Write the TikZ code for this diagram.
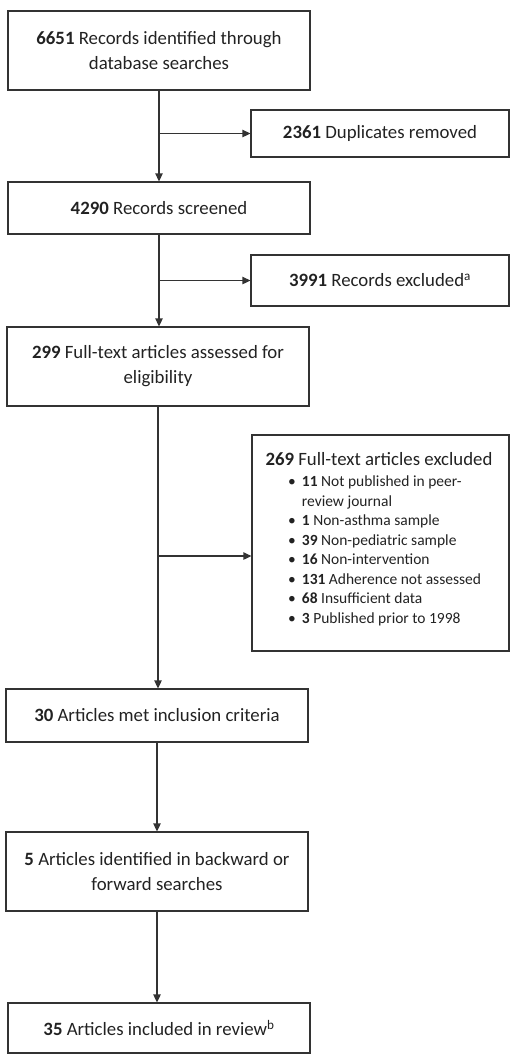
\documentclass[tikz,border=0pt]{standalone}
\usepackage{fontspec}
\setmainfont{Carlito}
\usetikzlibrary{arrows.meta,positioning}
\definecolor{ln}{HTML}{333333}
\definecolor{tx}{HTML}{222222}
\tikzset{
  box/.style={draw=ln, line width=1.3pt, rectangle, inner sep=0pt, align=center, text=tx,
    font=\fontsize{18.8}{25}\selectfont},
  flow/.style={draw=ln, line width=1.3pt, -{Triangle[length=8pt,width=7.5pt]}},
}
\begin{document}
\begin{tikzpicture}[x=1pt,y=-1pt]
\useasboundingbox (0,0) rectangle (520,1063);
\node[box, minimum width=302, minimum height=79] (b1) at (159,50.5)
  {\textbf{6651} Records identified through\\database searches};
\node[box, minimum width=258, minimum height=47] (dup) at (380,133.5)
  {\textbf{2361} Duplicates removed};
\node[box, minimum width=302, minimum height=52] (b2) at (159,208)
  {\textbf{4290} Records screened};
\node[box, minimum width=258, minimum height=51] (exc) at (380,280.5)
  {\textbf{3991} Records excluded\textsuperscript{a}};
\node[box, minimum width=302, minimum height=79] (b3) at (158,366.5)
  {\textbf{299} Full-text articles assessed for\\eligibility};
\node[box, minimum width=257, minimum height=216] (ex3) at (380.5,543) {};
\node[text=tx, font=\fontsize{18.8}{25}\selectfont, inner sep=0pt] (ex3t) at (379,459)
  {\textbf{269} Full-text articles excluded};
\node[text=tx, font=\fontsize{15.5}{19.5}\selectfont, inner sep=0pt, anchor=north west, align=left] (ex3l) at (288,473)
  {\begin{tabular}{@{}l@{\hspace{6pt}}l@{}}
   • & \textbf{11} Not published in peer-\\
     & review journal\\
   • & \textbf{1} Non-asthma sample\\
   • & \textbf{39} Non-pediatric sample\\
   • & \textbf{16} Non-intervention\\
   • & \textbf{131} Adherence not assessed\\
   • & \textbf{68} Insufficient data\\
   • & \textbf{3} Published prior to 1998
   \end{tabular}};
\node[box, minimum width=302, minimum height=53] (b4) at (157,715.5)
  {\textbf{30} Articles met inclusion criteria};
\node[box, minimum width=302, minimum height=79] (b5) at (157,871.5)
  {\textbf{5} Articles identified in backward or\\forward searches};
\node[box, minimum width=302, minimum height=50] (b6) at (159,1028)
  {\textbf{35} Articles included in review\textsuperscript{b}};
% main flow
\draw[flow] (b1.south) -- (b1.south |- b2.north);
\draw[flow] (b2.south) -- (b2.south |- b3.north);
\draw[flow] (b3.south) -- (b3.south |- b4.north);
\draw[flow] (b4.south) -- (b4.south |- b5.north);
\draw[flow] (b5.south) -- (b5.south |- b6.north);
% side branches
\coordinate (a3) at ([yshift=-13pt]ex3.west);
\coordinate (s1) at (b1.south |- dup.west);
\coordinate (s2) at (b2.south |- exc.west);
\coordinate (s3) at (b3.south |- a3);
\draw[flow] (s1) -- (dup.west);
\draw[flow] (s2) -- (exc.west);
\draw[flow] (s3) -- (a3);
\end{tikzpicture}
\end{document}
